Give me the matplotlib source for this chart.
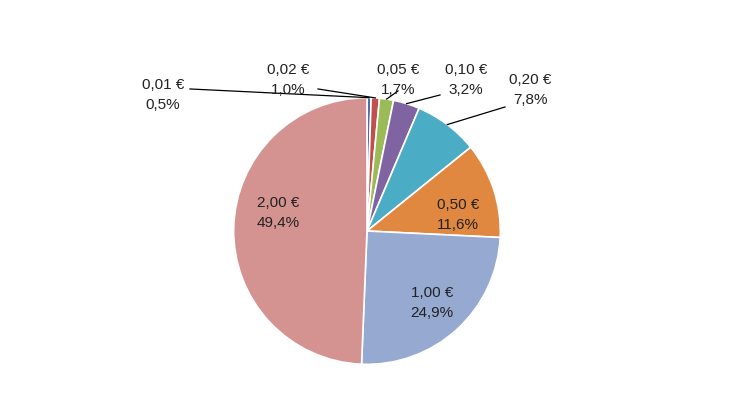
import numpy as np
import matplotlib.pyplot as plt

labels = ["0,01 €", "0,02 €", "0,05 €", "0,10 €", "0,20 €", "0,50 €", "1,00 €", "2,00 €"]
shares = [0.5, 1.0, 1.7, 3.2, 7.8, 11.6, 24.9, 49.4]
pct_labels = ["0,5%", "1,0%", "1,7%", "3,2%", "7,8%", "11,6%", "24,9%", "49,4%"]
colors = ["#4A6FA5", "#C0504D", "#9BBB59", "#8064A2", "#4BACC6", "#E0883F", "#95A9D1", "#D49391"]

W, H = 730, 410
fig = plt.figure(figsize=(7.3, 4.1), dpi=100)
cx, cy, R = 367, 232, 133.3
ax = fig.add_axes([(cx - 140) / W, (H - cy - 140) / H, 280 / W, 280 / H])
wedges, _ = ax.pie(shares, colors=colors, startangle=90, counterclock=False,
                   wedgeprops=dict(edgecolor='white', linewidth=1.2), radius=1.0)
ax.set_xlim(-1.05, 1.05); ax.set_ylim(-1.05, 1.05); ax.set_aspect('equal'); ax.axis('off')

def d(px, py):
    return ((px - cx) / R, (cy - py) / R)

font = dict(family='Liberation Sans', fontsize=11, color='#222222', ha='center', va='center', linespacing=1.6)
outside = {0: (163, 95, 190, 90), 1: (288, 80, 318, 90), 2: (398, 80, 398, 92),
           3: (466, 80, 440, 96), 4: (530, 90, 505, 108)}
inside = {5: (458, 215), 6: (432, 303), 7: (278, 213)}
for i, w in enumerate(wedges):
    txt = labels[i] + "\n" + pct_labels[i]
    if i in outside:
        tx, ty, lx, ly = outside[i]
        ang = np.deg2rad((w.theta1 + w.theta2) / 2)
        ax.text(*d(tx, ty), txt, **font)
        ax.plot([d(lx, ly)[0], np.cos(ang)], [d(lx, ly)[1], np.sin(ang)], color='black', lw=0.9, clip_on=False)
    else:
        ax.text(*d(*inside[i]), txt, **font)
fig.savefig("out.png", dpi=100)
